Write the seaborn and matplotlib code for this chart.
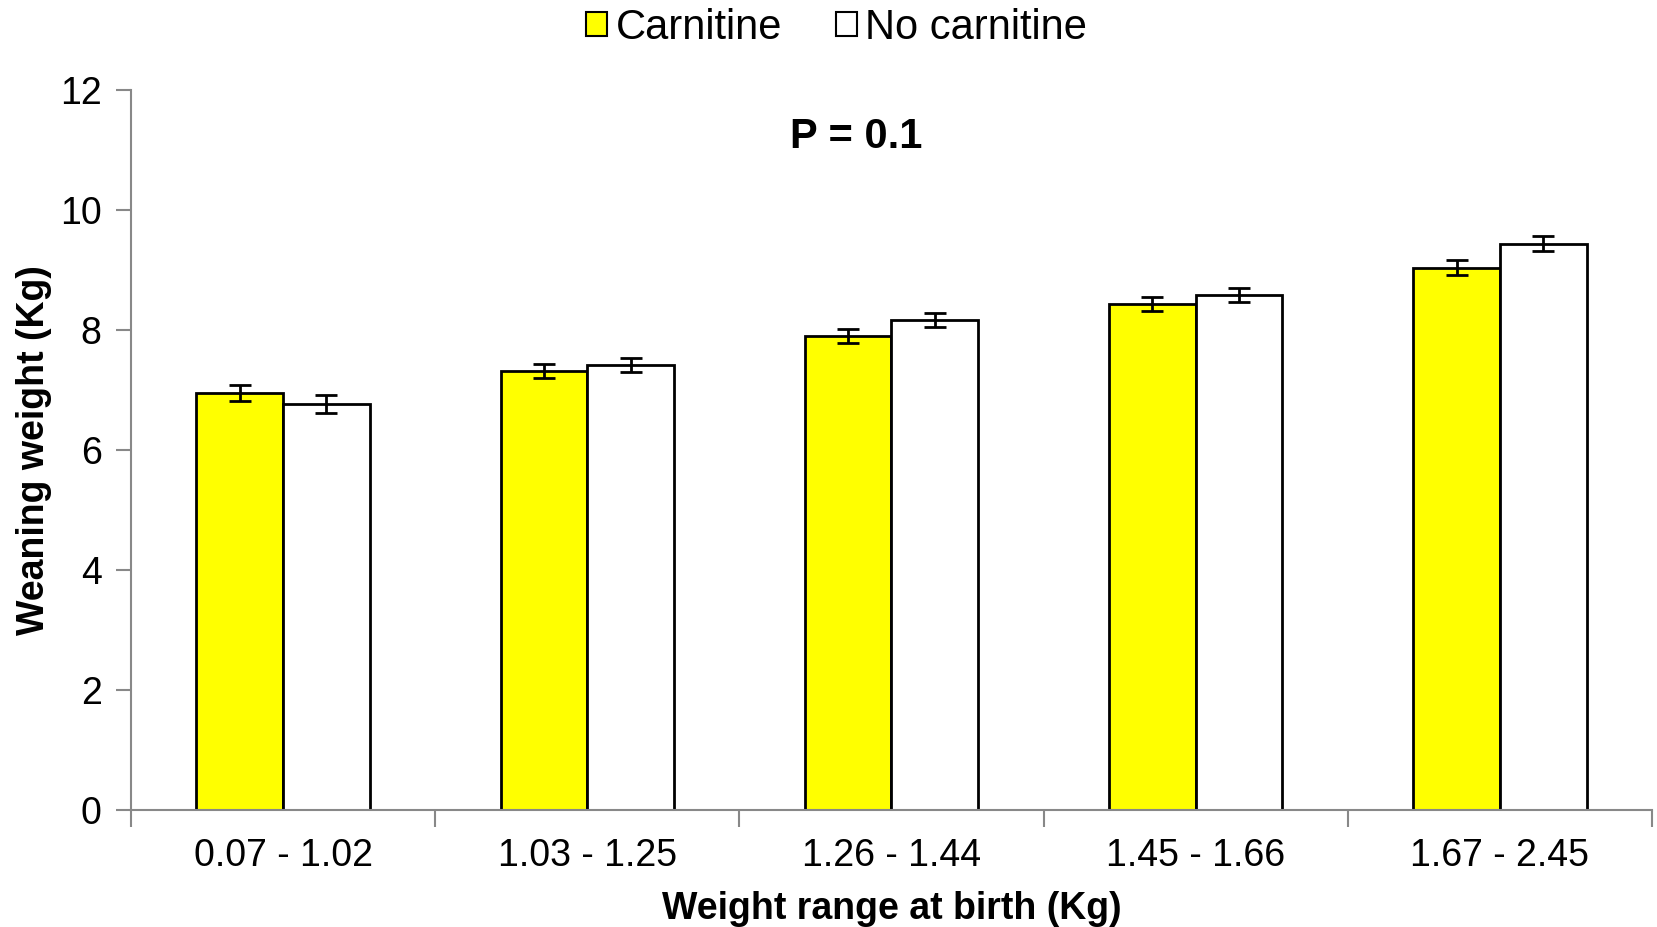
import matplotlib
matplotlib.use("Agg")
import matplotlib.pyplot as plt
import seaborn as sns
import pandas as pd
import numpy as np
from matplotlib.patches import Patch
from matplotlib.ticker import FixedLocator

categories = ["0.07 - 1.02", "1.03 - 1.25", "1.26 - 1.44", "1.45 - 1.66", "1.67 - 2.45"]
carnitine = [6.95, 7.32, 7.90, 8.43, 9.04]
no_carnitine = [6.76, 7.42, 8.17, 8.58, 9.44]
carnitine_err = [0.14, 0.12, 0.11, 0.12, 0.12]
no_carnitine_err = [0.15, 0.12, 0.12, 0.12, 0.13]
groups = ["Carnitine", "No carnitine"]
colors = {"Carnitine": "#FFFF00", "No carnitine": "#FFFFFF"}

df = pd.DataFrame({
    "range": categories * 2,
    "group": [groups[0]] * 5 + [groups[1]] * 5,
    "value": carnitine + no_carnitine,
})

sns.set_theme(style="white")
plt.rcParams["font.family"] = ["Liberation Sans", "DejaVu Sans"]

fig = plt.figure(figsize=(16.57, 9.27), dpi=100)
ax = fig.add_axes([0.079, 0.126, 0.918, 0.777])

sns.barplot(data=df, x="range", y="value", hue="group", order=categories,
            hue_order=groups, palette=colors, saturation=1, width=0.57, errorbar=None,
            edgecolor="black", linewidth=2, legend=False, ax=ax)

# error bars
errs = {groups[0]: carnitine_err, groups[1]: no_carnitine_err}
vals = {groups[0]: carnitine, groups[1]: no_carnitine}
containers = ax.containers
for gi, g in enumerate(groups):
    bars = containers[gi]
    xs = [b.get_x() + b.get_width() / 2 for b in bars]
    ax.errorbar(xs, vals[g], yerr=errs[g], fmt="none", ecolor="black",
                elinewidth=2, capsize=8, capthick=2, zorder=5)

ax.set_xlim(-0.5, 4.5)
ax.set_ylim(0, 12)
ax.set_yticks([0, 2, 4, 6, 8, 10, 12])
ax.tick_params(axis="y", labelsize=27, length=11, width=1.5, color="#888888",
               direction="out", left=True, pad=10, labelcolor="black")
ax.set_xticks(range(5))
ax.set_xticklabels(categories)
ax.tick_params(axis="x", which="major", labelsize=27, length=0, pad=20, labelcolor="black")
ax.xaxis.set_minor_locator(FixedLocator(np.arange(-0.5, 5.0, 1.0)))
ax.tick_params(axis="x", which="minor", length=12, width=1.5, color="#888888",
               direction="out", bottom=True)

for s in ["top", "right"]:
    ax.spines[s].set_visible(False)
for s in ["left", "bottom"]:
    ax.spines[s].set_color("#888888")
    ax.spines[s].set_linewidth(1.5)

ax.set_xlabel("Weight range at birth (Kg)", fontsize=27, fontweight="bold", labelpad=12,
              color="black")
ax.set_ylabel("Weaning weight (Kg)", fontsize=27, fontweight="bold", labelpad=6,
              color="black")

ax.text(0.477, 0.935, "P = 0.1", transform=ax.transAxes, ha="center", va="center",
        fontsize=30, fontweight="bold", color="black")

handles = [Patch(facecolor=colors[g], edgecolor="black", linewidth=1.5) for g in groups]
fig.legend(handles, groups, loc="center", bbox_to_anchor=(0.505, 0.97), ncol=2,
           frameon=False, fontsize=30, handlelength=0.5, handleheight=0.5,
           handletextpad=0.2, columnspacing=1.3, labelcolor="black")

fig.savefig("out.png", dpi=100)
